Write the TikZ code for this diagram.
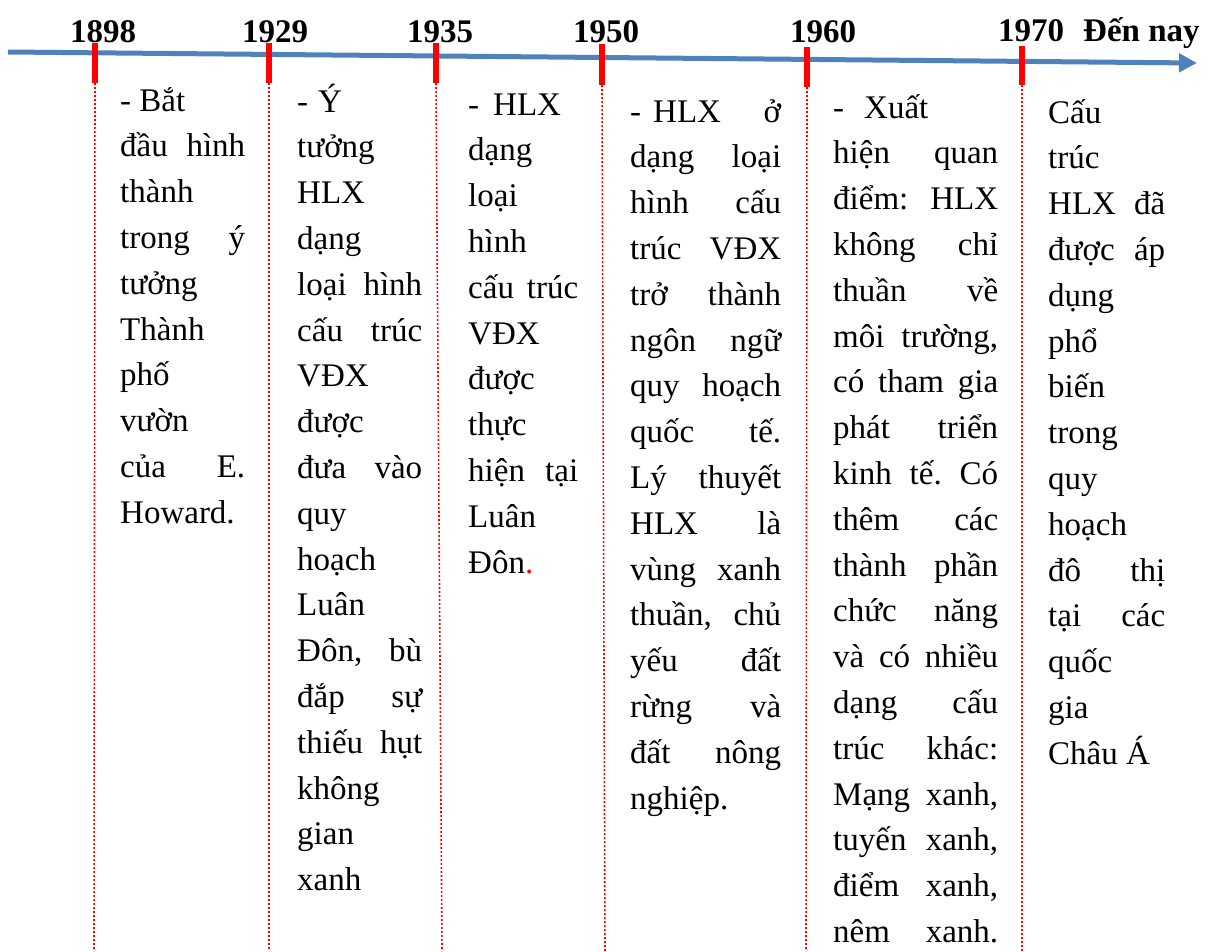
\documentclass[tikz,border=0pt]{standalone}
\usepackage{fontspec}
\setmainfont{Liberation Serif}
\usetikzlibrary{arrows.meta}
\definecolor{axisblue}{RGB}{79,129,189}
\definecolor{tickred}{RGB}{255,0,0}
\frenchspacing
\newcommand{\jline}[1]{\makebox[\colw][s]{#1}}
\newcommand{\tcol}[5]{%
  \def\colw{#4}%
  \foreach \tx [count=\i] in {#5} {
    \node[txt] (#1-\i) at (#2, {#3+(\i-1)*45.8}) {\tx};
  }}
\begin{document}
\begin{tikzpicture}[x=1pt,y=-1pt,
  yearlbl/.style={anchor=base west, inner sep=0pt, font=\fontsize{33}{40}\selectfont\bfseries},
  txt/.style={anchor=base west, inner sep=0pt, font=\fontsize{33}{40}\selectfont},
  tickln/.style={draw=tickred, line width=5.5pt},
  guide/.style={draw=tickred, line width=1.6pt, dash pattern=on 2pt off 2pt},
  axis/.style={draw=axisblue, line width=5pt, -{Triangle[length=18pt,width=18pt]}}]
\useasboundingbox (0,0) rectangle (1216,951);

% axis
\coordinate (axL) at (8,52);
\coordinate (axR) at (1197,63);
\draw[axis] (axL) -- (axR);

% year labels
\node[yearlbl] (y1898) at (70,42) {1898};
\node[yearlbl] (y1929) at (242,42) {1929};
\node[yearlbl] (y1935) at (407,42) {1935};
\node[yearlbl] (y1950) at (573,42) {1950};
\node[yearlbl] (y1960) at (790,42) {1960};
\node[yearlbl] (y1970) at (998,41) {1970\hspace{19pt}Đến nay};

% dotted guides
\foreach \n/\xt/\yb/\xb in {a/95/83/94, b/269/83/269, c/436/83/442, d/602/85/605, e/807/87/806, f/1022/85/1022} {
  \coordinate (g\n top) at (\xt,\yb);
  \coordinate (g\n bot) at (\xb,951);
  \draw[guide] (g\n top) -- (g\n bot);
}

% ticks
\foreach \n/\xt/\ya/\yb in {a/95/43/83, b/269/43/83, c/436/43/83, d/602/44/85, e/807/47/87, f/1022/46/85} {
  \coordinate (t\n top) at (\xt,\ya);
  \coordinate (t\n bot) at (\xt,\yb);
  \draw[tickln] (t\n top) -- (t\n bot);
}

% text columns
\tcol{c1}{120}{111}{125pt}{{- Bắt}, {\jline{đầu hình}}, thành, {\jline{trong ý}}, tưởng, Thành, phố, vườn, {\jline{của E.}}, Howard.}
\tcol{c2}{297}{112}{125pt}{{-\hspace{10pt}Ý}, tưởng, HLX, dạng, {\jline{loại hình}}, {\jline{cấu trúc}}, VĐX, được, {\jline{đưa vào}}, quy, hoạch, Luân, {\jline{Đôn, bù}}, {\jline{đắp sự}}, {\jline{thiếu hụt}}, không, gian, xanh}
\tcol{c3}{468}{115}{110pt}{{-\hspace{14pt}HLX}, dạng, loại, hình, {\jline{cấu trúc}}, VĐX, được, thực, {\jline{hiện tại}}, Luân, {Đôn\textcolor{red}{.}}}
\tcol{c4}{630}{122}{151pt}{{\jline{-\hspace{12pt}HLX ở}}, {\jline{dạng loại}}, {\jline{hình cấu}}, {\jline{trúc VĐX}}, {\jline{trở thành}}, {\jline{ngôn ngữ}}, {\jline{quy hoạch}}, {\jline{quốc tế.}}, {\jline{Lý thuyết}}, {\jline{HLX là}}, {\jline{vùng xanh}}, {\jline{thuần, chủ}}, {\jline{yếu đất}}, {\jline{rừng và}}, {\jline{đất nông}}, nghiệp.}
\tcol{c5}{833}{118}{165pt}{{-\hspace{20pt}Xuất}, {\jline{hiện quan}}, {\jline{điểm: HLX}}, {\jline{không chỉ}}, {\jline{thuần về}}, {\jline{môi trường,}}, {\jline{có tham gia}}, {\jline{phát triển}}, {\jline{kinh tế. Có}}, {\jline{thêm các}}, {\jline{thành phần}}, {\jline{chức năng}}, {\jline{và có nhiều}}, {\jline{dạng cấu}}, {\jline{trúc khác:}}, {\jline{Mạng xanh,}}, {\jline{tuyến xanh,}}, {\jline{điểm xanh,}}, {\jline{nêm xanh.}}}
\tcol{c6}{1048}{123}{117pt}{Cấu, trúc, {\jline{HLX đã}}, {\jline{được áp}}, dụng, phổ, biến, trong, quy, hoạch, {\jline{đô thị}}, {\jline{tại các}}, quốc, gia, {Châu Á}}
\end{tikzpicture}
\end{document}
